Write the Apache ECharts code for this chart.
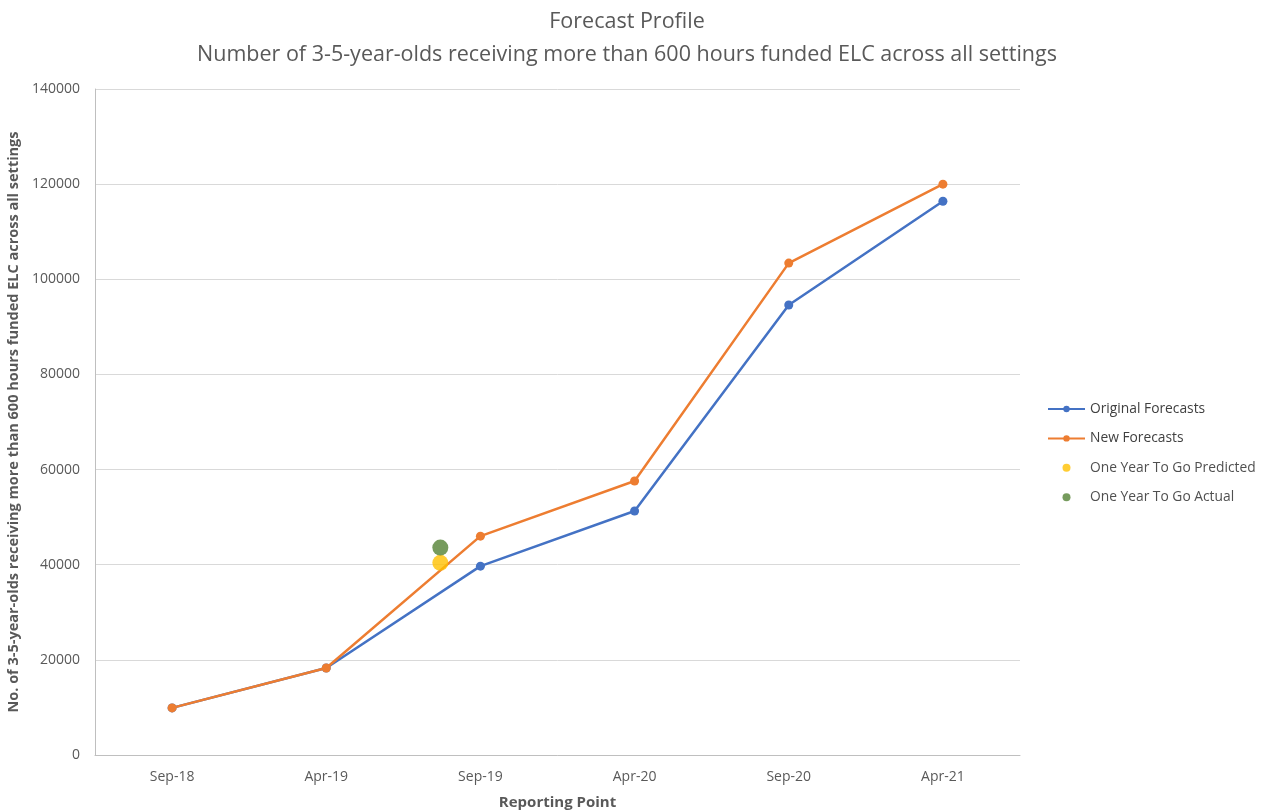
<!DOCTYPE html>
<html>
<head>
<meta charset="utf-8">
<script src="https://cdn.jsdelivr.net/npm/echarts@6/dist/echarts.min.js"></script>
<style>
html,body{margin:0;padding:0;background:#fff;}
#chart{width:1263px;height:811px;}
</style>
</head>
<body>
<div id="chart"></div>
<script>
// Reporting points along the x-axis
const categories = ['Sep-18', 'Apr-19', 'Sep-19', 'Apr-20', 'Sep-20', 'Apr-21'];
// Forecast counts per reporting point
const originalForecasts = [9900, 18300, 39700, 51300, 94600, 116400];
const newForecasts = [9900, 18300, 46000, 57600, 103400, 120000];
// One-year-to-go markers: [position between reporting points, count]
const oneYearPredicted = [[1.74, 40400]];
const oneYearActual = [[1.74, 43600]];
// Value axis ticks
const yTicks = [0, 20000, 40000, 60000, 80000, 100000, 120000, 140000];

const font = '"Open Sans", "Noto Sans", sans-serif';
const chart = echarts.init(document.getElementById('chart'), null, {renderer: 'canvas'});

chart.setOption({
  backgroundColor: '#ffffff',
  animation: false,
  textStyle: {fontFamily: font},
  title: {
    text: 'Forecast Profile\nNumber of 3-5-year-olds receiving more than 600 hours funded ELC across all settings',
    left: 622,
    textAlign: 'center',
    top: 0,
    textStyle: {fontFamily: font, fontSize: 21.5, fontWeight: 'normal', color: '#595959', lineHeight: 33}
  },
  legend: {
    orient: 'vertical',
    left: 1042,
    top: 397,
    itemGap: 15.4,
    itemWidth: 37,
    itemHeight: 8,
    textStyle: {fontFamily: font, fontSize: 13.8, color: '#404040'},
    data: [
      {name: 'Original Forecasts'},
      {name: 'New Forecasts'},
      {name: 'One Year To Go Predicted', textStyle: {color: '#505050'}},
      {name: 'One Year To Go Actual', textStyle: {color: '#505050'}}
    ]
  },
  grid: {left: 95, right: 243, top: 89, bottom: 56, outerBoundsMode: 'none'},
  xAxis: [
    {
      type: 'category',
      data: categories,
      boundaryGap: true,
      name: 'Reporting Point',
      nameLocation: 'middle',
      nameGap: 40.5,
      nameTextStyle: {fontFamily: font, fontSize: 15, fontWeight: 'bold', color: '#595959'},
      axisLine: {show: true, lineStyle: {color: '#bfbfbf', width: 1}},
      axisTick: {show: false},
      axisLabel: {fontFamily: font, fontSize: 14, color: '#595959', margin: 15},
      splitLine: {show: false}
    },
    {
      type: 'value',
      min: -0.5,
      max: 5.5,
      show: false
    }
  ],
  yAxis: {
    type: 'value',
    min: 0,
    max: 140000,
    interval: 20000,
    name: 'No. of 3-5-year-olds receiving more than 600 hours funded ELC across all settings',
    nameLocation: 'middle',
    nameGap: 70,
    nameTextStyle: {fontFamily: font, fontSize: 14.5, fontWeight: 'bold', color: '#595959'},
    axisLine: {show: true, onZero: false, lineStyle: {color: '#bfbfbf', width: 1}},
    axisTick: {show: false},
    axisLabel: {
      fontFamily: font, fontSize: 14, color: '#595959', margin: 15,
      formatter: v => (yTicks.includes(v) ? String(v) : '')
    },
    splitLine: {show: true, lineStyle: {color: '#d9d9d9', width: 1}}
  },
  series: [
    {
      name: 'Original Forecasts',
      type: 'line',
      data: originalForecasts,
      xAxisIndex: 0,
      symbol: 'circle',
      symbolSize: 9,
      lineStyle: {color: '#4472C4', width: 2.5},
      itemStyle: {color: '#4472C4'},
      z: 2
    },
    {
      name: 'New Forecasts',
      type: 'line',
      data: newForecasts,
      xAxisIndex: 0,
      symbol: 'circle',
      symbolSize: 9,
      lineStyle: {color: '#ED7D31', width: 2.5},
      itemStyle: {color: '#ED7D31'},
      z: 3
    },
    {
      name: 'One Year To Go Predicted',
      type: 'scatter',
      xAxisIndex: 1,
      data: oneYearPredicted,
      symbol: 'circle',
      symbolSize: 16,
      itemStyle: {color: '#FFC000'},
      z: 4
    },
    {
      name: 'One Year To Go Actual',
      type: 'scatter',
      xAxisIndex: 1,
      data: oneYearActual,
      symbol: 'circle',
      symbolSize: 16,
      itemStyle: {color: '#548235'},
      z: 5
    }
  ]
});
</script>
</body>
</html>
